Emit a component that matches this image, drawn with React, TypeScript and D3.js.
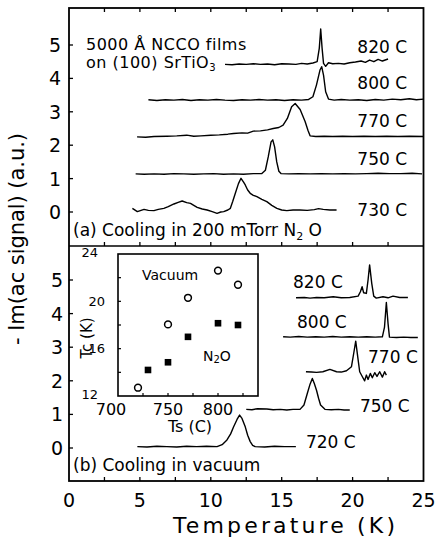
import * as d3 from "d3";
import React from "react";

// ── Data ──────────────────────────────────────────────────────────────────────
type Pt = [number, number]; // [temperature K, -Im(ac signal) a.u. + offset]

const tempTicks = [0, 5, 10, 15, 20, 25];
const signalTicks = [0, 1, 2, 3, 4, 5];

// (a) cooling in 200 mTorr N2O
const n2o730: Pt[] = [
  [4.47, 0.11], [4.82, 0.01], [5.29, 0.08], [5.6, 0.05], [5.99, 0.04], [6.3, 0.08], [6.69, 0.11],
  [7.0, 0.16], [7.4, 0.24], [7.7, 0.29], [7.98, 0.33], [8.3, 0.28], [8.57, 0.26], [8.8, 0.2],
  [9.04, 0.14], [9.4, 0.09], [9.74, 0.06], [10.1, 0.01], [10.44, -0.04], [10.7, 0.0], [10.91, 0.01],
  [11.2, 0.06], [11.38, 0.11], [11.55, 0.32], [11.73, 0.56], [11.95, 0.85], [12.13, 1.01], [12.3, 0.9],
  [12.43, 0.81], [12.6, 0.66], [12.78, 0.56], [13.0, 0.5], [13.25, 0.46], [13.6, 0.38], [13.95, 0.31],
  [14.3, 0.2], [14.66, 0.11], [15.0, 0.06], [15.36, 0.04], [15.8, 0.06], [16.29, 0.06], [16.8, 0.05],
  [17.3, 0.07], [17.6, 0.1], [17.93, 0.08], [18.4, 0.06], [18.87, 0.06],
];
const n2o750: Pt[] = [
  [4.7, 1.14], [5.3, 1.13], [6.0, 1.14], [6.7, 1.13], [7.4, 1.15], [8.1, 1.14], [8.8, 1.13],
  [9.5, 1.14], [10.2, 1.15], [10.9, 1.13], [11.6, 1.14], [12.3, 1.13], [13.0, 1.15], [13.6, 1.15],
  [13.85, 1.25], [14.05, 1.65], [14.25, 2.1], [14.37, 2.16], [14.5, 1.95], [14.65, 1.5], [14.8, 1.22],
  [14.95, 1.15], [15.5, 1.14], [16.2, 1.15], [17.0, 1.14], [17.8, 1.15], [18.6, 1.14], [19.4, 1.15],
  [20.2, 1.14], [21.0, 1.15], [21.8, 1.16], [22.6, 1.15], [23.4, 1.15], [24.2, 1.16], [24.9, 1.14],
];
const n2o770: Pt[] = [
  [4.8, 2.25], [5.4, 2.24], [6.0, 2.26], [6.9, 2.27], [7.6, 2.28], [8.3, 2.3], [8.8, 2.27],
  [9.3, 2.28], [10.0, 2.3], [10.6, 2.31], [11.2, 2.33], [11.6, 2.35], [12.2, 2.37], [12.6, 2.36],
  [13.0, 2.42], [13.5, 2.43], [14.0, 2.46], [14.4, 2.5], [14.8, 2.53], [15.1, 2.6], [15.4, 2.8],
  [15.7, 3.15], [15.95, 3.25], [16.3, 3.07], [16.65, 2.71], [16.85, 2.45], [17.0, 2.28], [17.4, 2.26],
  [18.0, 2.27], [18.6, 2.26], [19.3, 2.27], [20.0, 2.26], [20.8, 2.27], [21.6, 2.26], [22.4, 2.27],
  [23.2, 2.26], [24.0, 2.27], [25.0, 2.26],
];
const n2o800: Pt[] = [
  [5.6, 3.36], [6.2, 3.34], [6.8, 3.36], [7.4, 3.35], [8.0, 3.37], [8.6, 3.34], [9.2, 3.36],
  [9.8, 3.35], [10.4, 3.37], [11.0, 3.35], [11.6, 3.34], [12.2, 3.36], [12.8, 3.35], [13.4, 3.37],
  [14.0, 3.35], [14.6, 3.36], [15.2, 3.34], [15.8, 3.36], [16.4, 3.35], [16.9, 3.37], [17.2, 3.45],
  [17.45, 3.8], [17.7, 4.25], [17.82, 4.35], [17.95, 4.1], [18.1, 3.6], [18.3, 3.38], [18.7, 3.35],
  [19.2, 3.37], [19.8, 3.35], [20.4, 3.36], [21.0, 3.34], [21.6, 3.37], [22.2, 3.35], [22.8, 3.38],
  [23.4, 3.36], [24.0, 3.39], [24.5, 3.36], [25.0, 3.38],
];
const n2o820: Pt[] = [
  [11.0, 4.42], [11.5, 4.41], [12.0, 4.43], [12.5, 4.42], [13.0, 4.44], [13.5, 4.42], [14.0, 4.43],
  [14.5, 4.41], [15.0, 4.44], [15.5, 4.43], [16.0, 4.42], [16.4, 4.45], [16.8, 4.43], [17.2, 4.46],
  [17.5, 4.5], [17.65, 4.9], [17.75, 5.48], [17.85, 4.9], [17.95, 4.45], [18.1, 4.36], [18.3, 4.47],
  [18.6, 4.44], [19.0, 4.45], [19.4, 4.43], [19.8, 4.47], [20.2, 4.49], [20.6, 4.52], [20.9, 4.48],
  [21.2, 4.55], [21.5, 4.5], [21.8, 4.57], [22.1, 4.52], [22.5, 4.58],
];
const n2oCurves = [n2o730, n2o750, n2o770, n2o800, n2o820];
const n2oNames = ["730 C", "750 C", "770 C", "800 C", "820 C"];
const n2oLabelAt: Pt[] = [[23.84, 0.06], [23.84, 1.59], [23.84, 2.72], [23.84, 3.86], [23.84, 4.94]];

// (b) cooling in vacuum
const vac720: Pt[] = [
  [4.82, 0.04], [5.5, 0.03], [6.2, 0.05], [6.9, 0.04], [7.6, 0.03], [8.3, 0.05], [9.0, 0.04],
  [9.7, 0.05], [10.44, 0.04], [10.8, 0.1], [11.14, 0.24], [11.4, 0.42], [11.61, 0.63], [11.85, 0.85],
  [12.03, 0.98], [12.2, 0.88], [12.43, 0.63], [12.6, 0.38], [12.78, 0.19], [12.95, 0.08], [13.13, 0.04],
  [13.8, 0.03], [14.5, 0.05], [15.2, 0.04], [16.0, 0.04],
];
const vac750: Pt[] = [
  [12.5, 1.15], [12.9, 1.14], [13.3, 1.17], [13.95, 1.16], [14.4, 1.14], [14.9, 1.15], [15.36, 1.13],
  [15.8, 1.15], [16.29, 1.15], [16.57, 1.28], [16.81, 1.63], [17.0, 1.9], [17.16, 2.07], [17.3, 1.92],
  [17.46, 1.71], [17.6, 1.48], [17.74, 1.28], [18.05, 1.15], [18.5, 1.14], [19.0, 1.15], [19.4, 1.13],
  [19.8, 1.13],
];
const vac770: Pt[] = [
  [16.71, 2.27], [17.1, 2.26], [17.46, 2.25], [17.9, 2.27], [18.4, 2.34], [18.87, 2.27], [19.2, 2.26],
  [19.57, 2.3], [19.92, 2.42], [20.08, 2.82], [20.22, 3.18], [20.36, 2.72], [20.5, 2.27], [20.69, 2.12],
  [20.85, 2.0], [20.97, 2.17], [21.09, 2.04], [21.25, 2.22], [21.39, 2.09], [21.56, 2.24], [21.72, 2.13],
  [21.91, 2.27], [22.1, 2.11], [22.26, 2.27], [22.38, 2.17],
];
const vac800: Pt[] = [
  [15.1, 3.31], [15.6, 3.3], [16.2, 3.32], [16.8, 3.3], [17.4, 3.31], [18.0, 3.3], [18.6, 3.32],
  [19.2, 3.3], [19.8, 3.31], [20.4, 3.3], [21.0, 3.31], [21.6, 3.3], [22.1, 3.31], [22.25, 3.6],
  [22.38, 4.33], [22.5, 3.7], [22.6, 3.3], [23.1, 3.29], [23.6, 3.3], [24.1, 3.29], [24.6, 3.29],
];
const vac820: Pt[] = [
  [16.01, 4.47], [16.6, 4.48], [17.0, 4.46], [17.46, 4.48], [18.0, 4.47], [18.63, 4.5], [19.2, 4.47],
  [19.8, 4.48], [20.39, 4.52], [20.55, 4.65], [20.67, 4.8], [20.78, 4.62], [20.97, 4.6], [21.09, 5.0],
  [21.2, 5.45], [21.35, 4.9], [21.49, 4.52], [21.67, 4.46], [22.14, 4.5], [22.5, 4.47], [22.85, 4.52],
  [23.32, 4.48], [23.9, 4.48],
];
const vacCurves = [vac720, vac750, vac770, vac800, vac820];
const vacNames = ["720 C", "750 C", "770 C", "800 C", "820 C"];
const vacLabelAt: Pt[] = [[16.71, 0.18], [20.52, 1.25], [21.09, 2.71], [16.08, 3.75], [15.8, 4.94]];

// inset: Tc vs substrate temperature
const vacuumTs = [720, 750, 770, 800, 820];
const vacuumTc = [12.7, 18.05, 20.3, 22.6, 21.4];
const n2oTs = [730, 750, 770, 800, 820];
const n2oTc = [14.2, 14.85, 17.0, 18.15, 18.0];
const insetTsTicks = [700, 750, 800];
const insetTcTicks = [12, 16, 20, 24];

// ── Layout ───────────────────────────────────────────────────────────────────
const W = 439;
const H = 540;
const L = 69;
const R = 423.5;
const TOP = 8;
const MID = 246;
const BOT = 481;
const FONT = "'DejaVu Sans', Verdana, sans-serif";

export default function App() {
  const x = d3.scaleLinear().domain([0, 25]).range([L, R]);
  const yA = d3.scaleLinear().domain([0, 5]).range([212, 45]);
  const yB = d3.scaleLinear().domain([0, 5]).range([448, 280]);
  const ix = d3.scaleLinear().domain([700, 840]).range([118, 258]);
  const iy = d3.scaleLinear().domain([12, 24]).range([396, 254]);

  const lineA = d3.line<Pt>().x((d) => x(d[0])).y((d) => yA(d[1]));
  const lineB = d3.line<Pt>().x((d) => x(d[0])).y((d) => yB(d[1]));

  const minorT = d3.range(2.5, 25, 2.5);
  const tk = 4;

  return (
    <svg
      width={W}
      height={H}
      viewBox={`0 0 ${W} ${H}`}
      style={{ position: "absolute", left: 0, top: 0, background: "#fff" }}
      fontFamily={FONT}
    >
      <rect width={W} height={H} fill="#fff" />

      {/* traces */}
      <g fill="none" stroke="#000" strokeWidth={1.4} strokeLinejoin="round">
        {n2oCurves.map((c, i) => <path key={"a" + i} d={lineA(c) ?? ""} />)}
        {vacCurves.map((c, i) => <path key={"b" + i} d={lineB(c) ?? ""} />)}
      </g>

      {/* trace labels */}
      <g fontSize={17} fill="#000">
        {n2oNames.map((n, i) => (
          <text key={n} x={x(n2oLabelAt[i][0])} y={yA(n2oLabelAt[i][1])} textAnchor="end" dominantBaseline="central">{n}</text>
        ))}
        {vacNames.map((n, i) => (
          <text key={n} x={x(vacLabelAt[i][0])} y={yB(vacLabelAt[i][1])} dominantBaseline="central">{n}</text>
        ))}
      </g>

      {/* annotations */}
      <g fontSize={16} fill="#000">
        <text x={86} y={50} letterSpacing={0.5}>5000 Å NCCO films</text>
        <text x={86} y={68} letterSpacing={0.5}>
          on (100) SrTiO<tspan fontSize={10} dy={3}>3</tspan>
        </text>
      </g>
      <g fontSize={17} fill="#000">
        <text x={73} y={236}>
          (a) Cooling in 200 mTorr N<tspan fontSize={11} dy={4}>2</tspan>
          <tspan dy={-4}> O</tspan>
        </text>
        <text x={73} y={471}>(b) Cooling in vacuum</text>
      </g>

      {/* frame + ticks */}
      <rect x={L} y={TOP} width={R - L} height={BOT - TOP} fill="none" stroke="#000" strokeWidth={1.8} />
      <line x1={L} x2={R} y1={MID} y2={MID} stroke="#000" strokeWidth={1.5} />
      <g stroke="#000" strokeWidth={1.3}>
        {minorT.map((t) => (
          <g key={t}>
            <line x1={x(t)} x2={x(t)} y1={TOP} y2={TOP + tk} />
            <line x1={x(t)} x2={x(t)} y1={MID} y2={MID - tk} />
            <line x1={x(t)} x2={x(t)} y1={BOT} y2={BOT - tk} />
          </g>
        ))}
        {signalTicks.map((v) => (
          <g key={v}>
            <line x1={L} x2={L + tk} y1={yA(v)} y2={yA(v)} />
            <line x1={L} x2={L + tk} y1={yB(v)} y2={yB(v)} />
          </g>
        ))}
      </g>

      {/* axis tick labels */}
      <g fontSize={19} fill="#000">
        {signalTicks.map((v) => (
          <g key={v}>
            <text x={61} y={yA(v)} textAnchor="end" dominantBaseline="central">{v}</text>
            <text x={63} y={yB(v)} textAnchor="end" dominantBaseline="central">{v}</text>
          </g>
        ))}
        {tempTicks.map((t) => (
          <text key={t} x={x(t)} y={500} textAnchor="middle" dominantBaseline="central">{t}</text>
        ))}
      </g>

      {/* axis titles */}
      <text x={284} y={533} fontSize={22} textAnchor="middle" textLength={222} lengthAdjust="spacing">
        Temperature (K)
      </text>
      <text
        transform="translate(24,239) rotate(-90)"
        fontSize={21}
        textAnchor="middle"
        textLength={212}
        lengthAdjust="spacing"
      >
        - Im(ac signal) (a.u.)
      </text>

      {/* inset */}
      <g>
        <rect x={ix(700)} y={iy(24)} width={ix(840) - ix(700)} height={iy(12) - iy(24)} fill="#fff" stroke="#000" strokeWidth={1.6} />
        <g stroke="#000" strokeWidth={1.2}>
          {d3.range(725, 840, 25).map((t) => (
            <line key={t} x1={ix(t)} x2={ix(t)} y1={iy(12)} y2={iy(12) - 3} />
          ))}
          {d3.range(14, 24, 2).map((v) => (
            <line key={v} x1={ix(700)} x2={ix(700) + 3} y1={iy(v)} y2={iy(v)} />
          ))}
        </g>
        {vacuumTs.map((t, i) => (
          <circle key={t} cx={ix(t)} cy={iy(vacuumTc[i])} r={3.4} fill="#fff" stroke="#000" strokeWidth={1.5} />
        ))}
        {n2oTs.map((t, i) => (
          <rect key={t} x={ix(t) - 3.3} y={iy(n2oTc[i]) - 3.3} width={6.6} height={6.6} fill="#000" />
        ))}
        <g fontSize={16} fill="#000">
          {insetTsTicks.map((t, i) => (
            <text key={t} x={ix(t) + (i === 0 ? -7 : 0)} y={409} textAnchor="middle" dominantBaseline="central">{t}</text>
          ))}
        </g>
        <g fontSize={13} fill="#000">
          {insetTcTicks.map((v) => (
            <text key={v} x={v === 12 || v === 24 ? 98 : 105} y={iy(v) + (v === 12 || v === 24 ? -2 : 0)} textAnchor="end" dominantBaseline="central">{v}</text>
          ))}
        </g>
        <text x={190} y={432} fontSize={16} textAnchor="middle">Ts (C)</text>
        <text transform="translate(92,338) rotate(-90)" fontSize={15} textAnchor="middle">Tc (K)</text>
        <text x={142} y={280} fontSize={14}>Vacuum</text>
        <text x={203} y={361} fontSize={14}>
          N<tspan fontSize={10} dy={2}>2</tspan><tspan dy={-2}>O</tspan>
        </text>
      </g>
    </svg>
  );
}
